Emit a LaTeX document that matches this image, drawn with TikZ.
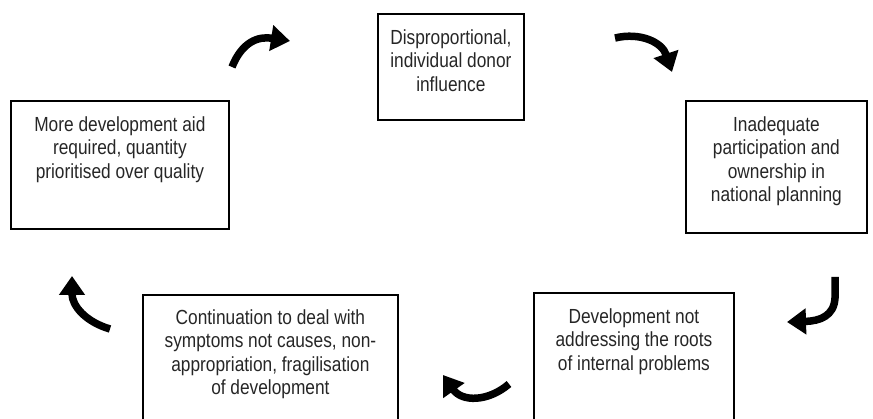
\documentclass[tikz,border=0pt]{standalone}
\usepackage{fontspec}
\setmainfont{Liberation Sans}
\usetikzlibrary{arrows.meta}
\tikzset{
  box/.style={draw=black, line width=1.8pt, rectangle, inner sep=0pt, anchor=north west},
  boxtext/.style={align=center, inner sep=0pt, anchor=north, text=black!85,
    font=\fontsize{17.3}{20}\selectfont, yscale=1.18, transform shape},
  cyc/.style={line width=7.5pt, -{Triangle[length=19pt,width=25pt]}}
}
\begin{document}
\begin{tikzpicture}[x=1pt,y=-1pt]
\useasboundingbox (0,0) rectangle (873,419);
\clip (0,0) rectangle (873,419);
% boxes
\node[box, minimum width=146pt, minimum height=106pt] (b1) at (377,13) {};
\node[box, minimum width=181pt, minimum height=132pt] (b2) at (685,100) {};
\node[box, minimum width=218pt, minimum height=128pt] (b3) at (10,100) {};
\node[box, minimum width=200pt, minimum height=150pt] (b4) at (533,292) {};
\node[box, minimum width=255pt, minimum height=150pt] (b5) at (142,294) {};
% texts
\node[boxtext] (t1) at ([yshift=-16pt]b1.north) {Disproportional,\\individual donor\\influence};
\node[boxtext] (t2) at ([yshift=-16pt]b2.north) {Inadequate\\participation and\\ownership in\\national planning};
\node[boxtext] (t3) at ([yshift=-16pt]b3.north) {More development aid\\required, quantity\\prioritised over quality};
\node[boxtext] (t4) at ([yshift=-16pt]b4.north) {Development not\\addressing the roots\\of internal problems};
\node[boxtext] (t5) at ([yshift=-15pt]b5.north) {Continuation to deal with\\symptoms not causes, non-\\appropriation, fragilisation\\of development};
% cycle arrows
\coordinate (a1s) at (232,67); \coordinate (a1e) at (290,41);
\coordinate (a2s) at (615,38); \coordinate (a2e) at (672,72);
\coordinate (a3s) at (835,277); \coordinate (a3e) at (787,322);
\coordinate (a4s) at (509,384); \coordinate (a4e) at (443,375);
\coordinate (a5s) at (110,329); \coordinate (a5e) at (72,276);
\draw[cyc] (a1s) .. controls (242,42) and (258,36) .. (a1e);
\draw[cyc] (a2s) .. controls (640,32) and (662,42) .. (a2e);
\draw[cyc] (a3s) -- (835,298) .. controls (834,316) and (820,321) .. (a3e);
\draw[cyc] (a4s) .. controls (488,402) and (462,402) .. (a4e);
\draw[cyc] (a5s) .. controls (86,322) and (72,306) .. (a5e);
\end{tikzpicture}
\end{document}
